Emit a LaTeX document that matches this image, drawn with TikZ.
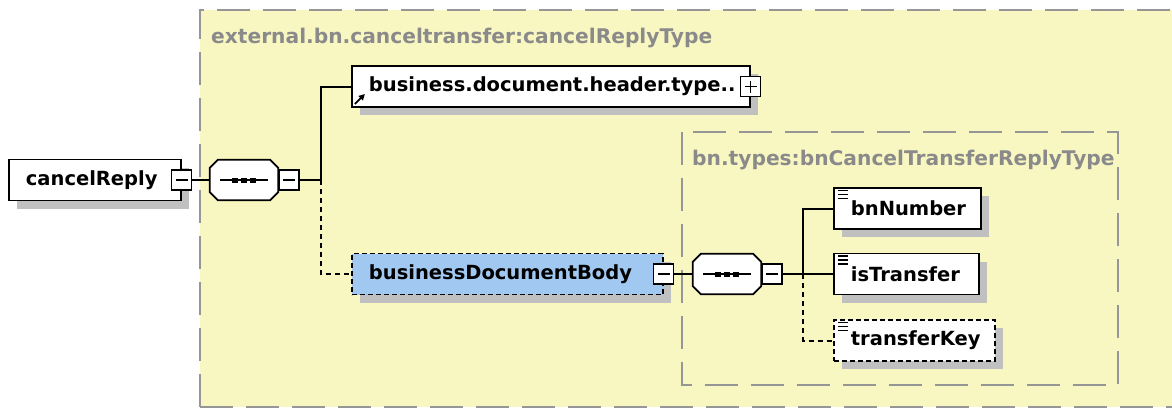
\documentclass[tikz,border=0pt]{standalone}
\usepackage{fontspec}
\setmainfont{DejaVu Sans}
\usetikzlibrary{arrows.meta,positioning,shadows}
\definecolor{typefill}{RGB}{249,247,193}
\definecolor{typeline}{RGB}{150,150,150}
\definecolor{typetext}{RGB}{138,138,138}
\definecolor{shgray}{RGB}{192,192,192}
\definecolor{optblue}{RGB}{161,200,240}
\newcommand{\xsdfont}{\fontsize{19.5}{23}\selectfont\bfseries}
\newcommand{\typefont}{\fontsize{20.2}{24}\selectfont\bfseries}
\tikzset{%
	typebox/.style  = {draw=typeline, line width=2pt, dash pattern=on 33pt off 13pt},
	typetitle/.style= {anchor=west, inner sep=0pt, text=typetext, font=\typefont},
	elem/.style     = {draw, fill=white, line width=1.8pt, minimum height=41pt, inner xsep=17pt, inner ysep=0pt, align=left, anchor=west, font=\xsdfont, drop shadow={shadow xshift=8pt, shadow yshift=-8pt, fill=shgray, opacity=1}},
	optelem/.style  = {elem, dash pattern=on 5pt off 3pt},
	leaf/.style     = {path picture={\foreach \k in {2.5,6.5,10.5} \draw[solid,line width=1.1pt] ([xshift=4pt,yshift=-\k pt]path picture bounding box.north west) -- +(10pt,0pt);}},
	ref/.style      = {path picture={\draw[solid,line width=1.8pt,-{Triangle[length=6pt,width=6pt]}] ([xshift=3pt,yshift=3pt]path picture bounding box.south west) -- ++(10pt,10pt);}},
	seqbox/.style   = {minimum width=68pt, minimum height=40pt, inner sep=0pt},
	minusbox/.style = {draw, fill=white, line width=1.3pt, minimum size=20pt, inner sep=0pt, path picture={\draw[line width=1.3pt] ([xshift=4pt]path picture bounding box.west) -- ([xshift=-4pt]path picture bounding box.east);}},
	plusbox/.style  = {minusbox, path picture={\draw[line width=1.3pt] ([xshift=4pt]path picture bounding box.west) -- ([xshift=-4pt]path picture bounding box.east); \draw[line width=1.3pt] ([yshift=4pt]path picture bounding box.south) -- ([yshift=-4pt]path picture bounding box.north);}},
	conn/.style     = {line width=2pt},
	optline/.style  = {dash pattern=on 5pt off 4pt},
}
% sequence compositor drawn round a named node
\newcommand{\seqoct}[1]{%
	\path[fill=shgray, shift={(8pt,-8pt)}] ([xshift=8pt]#1.north west) -- ([xshift=-8pt]#1.north east) -- ([yshift=-8pt]#1.north east) -- ([yshift=8pt]#1.south east) -- ([xshift=-8pt]#1.south east) -- ([xshift=8pt]#1.south west) -- ([yshift=8pt]#1.south west) -- ([yshift=-8pt]#1.north west) -- cycle;
	\draw[fill=white, line width=1.8pt] ([xshift=8pt]#1.north west) -- ([xshift=-8pt]#1.north east) -- ([yshift=-8pt]#1.north east) -- ([yshift=8pt]#1.south east) -- ([xshift=-8pt]#1.south east) -- ([xshift=8pt]#1.south west) -- ([yshift=8pt]#1.south west) -- ([yshift=-8pt]#1.north west) -- cycle;
	\draw[line width=1.5pt] ([xshift=-24pt]#1.center) -- ([xshift=24pt]#1.center);
	\foreach \d in {-9,0,9} \fill[black] ([xshift=\d pt-3pt,yshift=-2.5pt]#1.center) rectangle +(6pt,5pt);
}

\begin{document}
\begin{tikzpicture}[x=1pt,y=-1pt]
	\useasboundingbox (0,0) rectangle (1172,408);
	% complex types
	\fill[typefill] (200,10) rectangle (1190,407);
	\draw[typebox] (200,407) -- (200,10) -- (1190,10);
	\draw[typebox] (200,407) -- (1190,407);
	\draw[typebox] (682,132) rectangle (1118,385);
	\node[typetitle] (outertitle) at (211,38) {external.bn.canceltransfer:cancelReplyType};
	\node[typetitle] (innertitle) at (692,160) {bn.types:bnCancelTransferReplyType};
	
	\coordinate (bra) at (321,180);
	\coordinate (brb) at (803,274);
	
	\node[elem, text width=138pt] (cancel) at (8,180) {cancelReply};
	\node[minusbox] (cancelm) at (cancel.east) {};
	\node[seqbox] (seqa) at (244,180) {};
	\seqoct{seqa}
	\node[minusbox, right=0pt of seqa] (seqam) {};
	
	\node[elem, ref, text width=364pt] (header) at (351,86.5) {business.document.header.type..};
	\node[plusbox] (headerp) at (header.east) {};
	\node[optelem, fill=optblue, text width=277pt] (body) at (351,274) {businessDocumentBody};
	\node[minusbox] (bodym) at (body.east) {};
	\node[seqbox] (seqb) at (727,274) {};
	\seqoct{seqb}
	\node[minusbox, right=0pt of seqb] (seqbm) {};
	
	\node[elem, leaf, text width=113pt] (bnnum) at (833,208.5) {bnNumber};
	\node[elem, leaf, text width=111pt] (istrans) at (833,274) {isTransfer};
	\node[optelem, leaf, text width=127pt] (trkey) at (833,340.5) {transferKey};
	
	\draw[conn] (cancelm) -- (seqa);
	\draw[conn] (seqam) -- (bra);
	\draw[conn] (bra) |- (header.west);
	\draw[conn,optline] (bra) |- (body.west);
	\draw[conn] (bodym) -- (seqb);
	\draw[conn] (seqbm) -- (brb);
	\draw[conn] (brb) |- (bnnum.west);
	\draw[conn] (brb) -- (istrans.west);
	\draw[conn,optline] (brb) |- (trkey.west);
\end{tikzpicture}
\end{document}
